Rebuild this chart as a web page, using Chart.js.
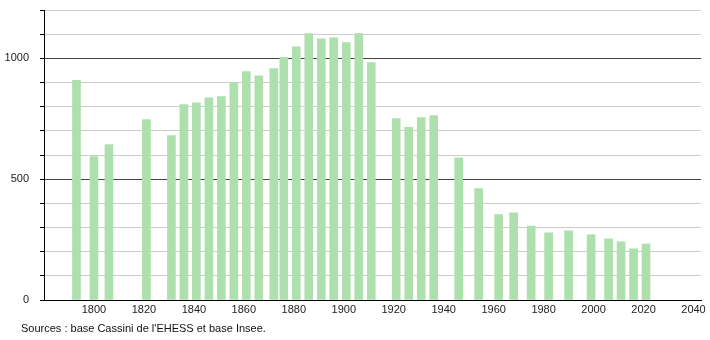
<!DOCTYPE html>
<html>
<head>
<meta charset="utf-8">
<script src="https://cdn.jsdelivr.net/npm/chart.js@4"></script>
<style>
  body { margin: 0; background: #fff; }
  #wrap { position: relative; width: 710px; height: 340px; }
  #sources { position: absolute; left: 21px; top: 322px; font: 11px "Liberation Sans", Arial, sans-serif; color: #111; }
</style>
</head>
<body>
<div id="wrap">
  <canvas id="chartPop" width="710" height="340"></canvas>
  <div id="sources">Sources : base Cassini de l'EHESS et base Insee.</div>
</div>
<script>
// annees de recensement et population
const annees = [1793, 1800, 1806, 1821, 1831, 1836, 1841, 1846, 1851, 1856,
    1861, 1866, 1872, 1876, 1881, 1886, 1891, 1896, 1901, 1906,
    1911, 1921, 1926, 1931, 1936, 1946, 1954, 1962, 1968, 1975,
    1982, 1990, 1999, 2006, 2011, 2016, 2021];
const population = [909, 593, 643, 747, 680, 809, 816, 837, 842, 899,
    945, 928, 958, 1004, 1048, 1102, 1081, 1085, 1065, 1102,
    982, 751, 714, 755, 763, 588, 461, 353, 361, 306,
    278, 286, 270, 253, 241, 212, 232];
const ticksX = [1800, 1820, 1840, 1860, 1880, 1900, 1920, 1940, 1960, 1980, 2000, 2020, 2040];
const ticksYLabel = [0, 500, 1000];

const fonte = { family: 'Liberation Sans', size: 11 };

new Chart(document.getElementById('chartPop').getContext('2d'), {
    type: 'bar',
    data: {
        datasets: [{
            data: annees.map((a, i) => ({ x: a, y: population[i] })),
            backgroundColor: '#ade0ad',
            barThickness: 8
        }]
    },
    options: {
        responsive: false,
        animation: false,
        layout: { padding: { top: 10, right: 9, left: 0, bottom: 0 } },
        plugins: { legend: { display: false }, tooltip: { enabled: false } },
        scales: {
            x: {
                type: 'linear',
                offset: false,
                min: 1780,
                max: 2043,
                afterBuildTicks: axis => { axis.ticks = ticksX.map(v => ({ value: v })); },
                afterFit: axis => { axis.height = 40; axis.paddingLeft = 0; axis.paddingRight = 0; },
                grid: { display: false, drawTicks: false, offset: false },
                border: { color: '#000', width: 1 },
                ticks: { color: '#222', font: fonte, padding: 3, maxRotation: 0, autoSkip: false,
                    callback: v => String(v) }
            },
            y: {
                min: 0,
                max: 1200,
                afterFit: axis => { axis.width = 44; axis.paddingTop = 0; axis.paddingBottom = 0; },
                border: { color: '#000', width: 1 },
                grid: {
                    color: ctx => {
                        const v = ctx.tick.value;
                        if (v === 0) return 'rgba(0,0,0,0)';
                        return (v === 500 || v === 1000) ? '#444' : '#ccc';
                    },
                    tickColor: '#000',
                    tickLength: 4
                },
                ticks: {
                    stepSize: 100,
                    color: '#222',
                    font: fonte,
                    padding: 11,
                    autoSkip: false,
                    callback: v => ticksYLabel.includes(v) ? String(v) : ''
                }
            }
        }
    }
});
</script>
</body>
</html>
